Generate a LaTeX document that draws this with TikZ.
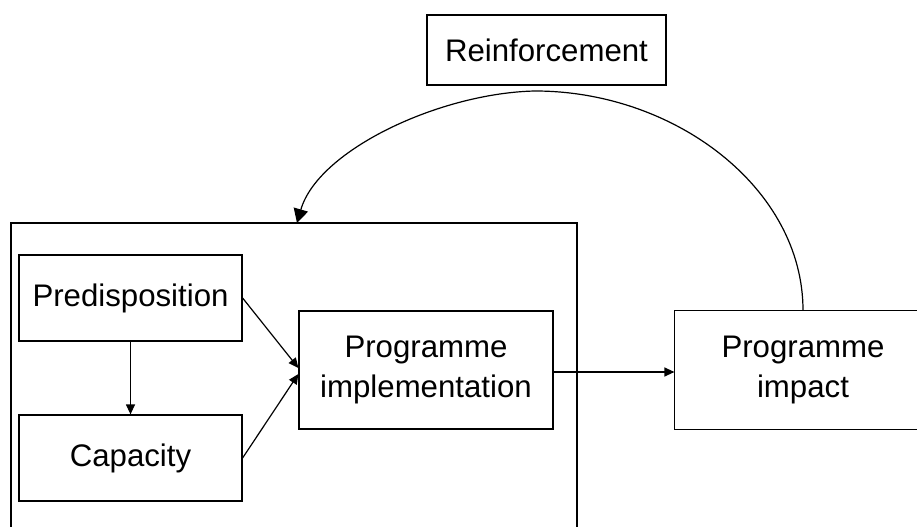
\documentclass[tikz,border=0pt]{standalone}
\usepackage{fontspec}
\setmainfont{Liberation Sans}
\usetikzlibrary{arrows.meta,calc}
\begin{document}
\begin{tikzpicture}[x=0.75pt,y=-0.75pt,
  box/.style={draw=black,line width=0.9pt,inner sep=0pt,align=center,
    font=\fontsize{23.4}{30}\selectfont},
  edge/.style={draw=black,line width=0.9pt},
  smallarrow/.style={-{Triangle[width=6.75pt,length=7.5pt]},line width=0.9pt},
  bigarrow/.style={-{Triangle[width=11pt,length=10.5pt]},line width=0.9pt}]
\useasboundingbox (0,0) rectangle (917,527);
\node[box,minimum width=179.25pt,minimum height=52.5pt] (reinf) at (546.5,50) {Reinforcement};
\node[box,minimum width=167.25pt,minimum height=64.5pt] (pred) at (130.5,298) {Predisposition};
\node[box,minimum width=167.25pt,minimum height=64.5pt] (cap) at (130.5,458) {Capacity};
\node[box,minimum width=190.5pt,minimum height=88.5pt] (impl) at (426,370) {Programme\\implementation};
\node[box,draw=none,minimum width=192pt,minimum height=88.5pt] (impact) at (803,370) {Programme\\impact};
\coordinate (olb) at (11,540);
\coordinate (olt) at (11,223);
\coordinate (ort) at (577,223);
\coordinate (orb) at (577,540);
\draw[edge] (olb) -- (olt) -- (ort) -- (orb);
\draw[edge] ($(impact.north east)+(30,0)$) -- (impact.north west) -- (impact.south west) -- ($(impact.south east)+(30,0)$);
\coordinate (fbend) at (297,223);
\draw[smallarrow] (pred.south) -- (cap.north);
\draw[smallarrow] (pred.east) -- ($(impl.west)+(0,-2)$);
\draw[smallarrow] (cap.east) -- ($(impl.west)+(0,4)$);
\draw[smallarrow] ($(impl.east)+(0,2)$) -- ($(impact.west)+(0,2)$);
\draw[bigarrow] (impact.north) .. controls ($(impact.north)+(0,-122)$) and (675,91) .. (535,91)
  .. controls (440,93) and (318,150) .. (fbend);
\end{tikzpicture}
\end{document}
